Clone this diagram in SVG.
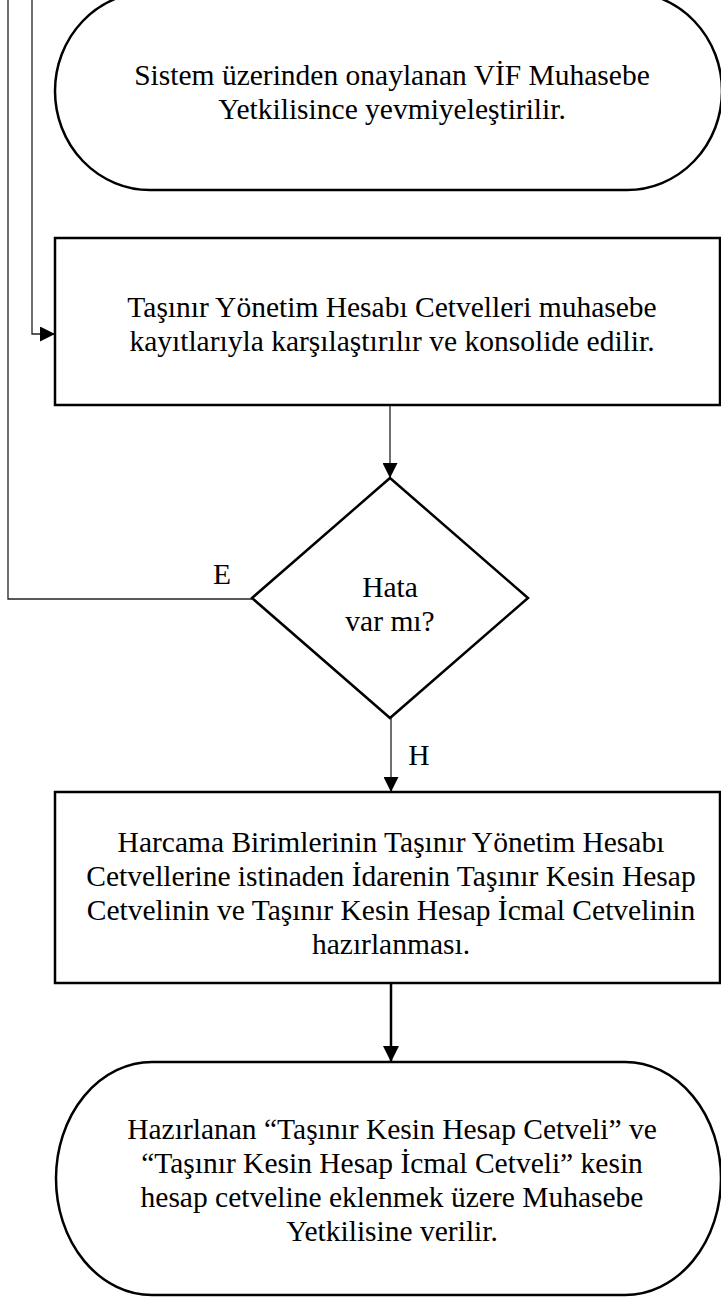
<svg xmlns="http://www.w3.org/2000/svg" width="721" height="1298" viewBox="0 0 721 1298">
<style>
.shape{fill:#fff;stroke:#000;stroke-width:2.5}
.conn{fill:none;stroke:#222;stroke-width:1.3}
.thick{fill:none;stroke:#000;stroke-width:2.5}
.t{font-family:"Liberation Serif","Times New Roman",serif;font-size:29.5px;fill:#000;text-anchor:middle}
</style>
<defs>
<marker id="ah" markerUnits="userSpaceOnUse" markerWidth="15" markerHeight="15" viewBox="0 0 15 15" refX="15" refY="7.5" orient="auto">
<path d="M0,0 L15,7.5 L0,15 Z" fill="#000"/>
</marker>
<marker id="ahb" markerUnits="userSpaceOnUse" markerWidth="16" markerHeight="16" viewBox="0 0 16 16" refX="16" refY="8" orient="auto">
<path d="M0,0 L16,8 L0,16 Z" fill="#000"/>
</marker>
</defs>
<rect width="721" height="1298" fill="#fff"/>
<g id="connectors">
<path class="conn" d="M252,599 H8 V0"/>
<path class="conn" d="M32,0 V334 H55" marker-end="url(#ah)"/>
<path class="conn" d="M390,405 V478" marker-end="url(#ah)"/>
<path class="conn" d="M391,718 V792" marker-end="url(#ah)"/>
<path class="thick" d="M391,983 V1062" marker-end="url(#ahb)"/>
</g>
<g id="n1">
<path class="shape" d="M150,-8 H627 A95,99 0 0 1 627,190 H150 A95,99 0 0 1 150,-8 Z"/>
<text class="t"><tspan x="392" y="85">Sistem üzerinden onaylanan VİF Muhasebe</tspan><tspan x="392" y="119">Yetkilisince yevmiyeleştirilir.</tspan></text>
</g>
<g id="n2">
<rect class="shape" x="55" y="238" width="665" height="167"/>
<text class="t"><tspan x="392" y="317">Taşınır Yönetim Hesabı Cetvelleri muhasebe</tspan><tspan x="392" y="351">kayıtlarıyla karşılaştırılır ve konsolide edilir.</tspan></text>
</g>
<g id="n3">
<path class="shape" d="M390,478 L528,598 L390,718 L252,598 Z"/>
<text class="t"><tspan x="390" y="597">Hata</tspan><tspan x="390" y="631">var mı?</tspan></text>
</g>
<g id="n4">
<rect class="shape" x="55" y="792" width="665" height="191"/>
<text class="t"><tspan x="391" y="852">Harcama Birimlerinin Taşınır Yönetim Hesabı</tspan><tspan x="391" y="886">Cetvellerine istinaden İdarenin Taşınır Kesin Hesap</tspan><tspan x="391" y="920">Cetvelinin ve Taşınır Kesin Hesap İcmal Cetvelinin</tspan><tspan x="391" y="954">hazırlanması.</tspan></text>
</g>
<g id="n5">
<path class="shape" d="M152,1062 H625 A96,116.5 0 0 1 625,1295 H152 A96,116.5 0 0 1 152,1062 Z"/>
<text class="t"><tspan x="392" y="1139">Hazırlanan “Taşınır Kesin Hesap Cetveli” ve</tspan><tspan x="392" y="1173">“Taşınır Kesin Hesap İcmal Cetveli” kesin</tspan><tspan x="392" y="1207">hesap cetveline eklenmek üzere Muhasebe</tspan><tspan x="392" y="1241">Yetkilisine verilir.</tspan></text>
</g>
<g id="labels">
<text class="t" x="222" y="584">E</text>
<text class="t" x="419" y="765">H</text>
</g>
</svg>
